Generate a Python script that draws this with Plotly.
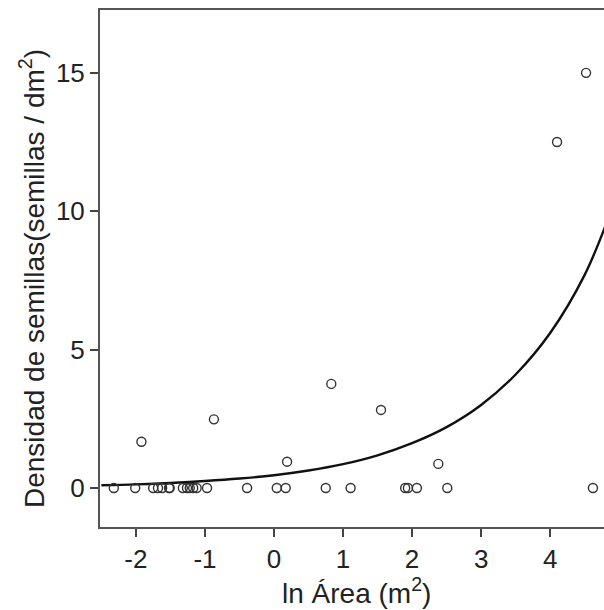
import plotly.graph_objects as go

# Observed points
x_obs = [-2.32, -2.01, -1.75, -1.68, -1.62, -1.52, -1.51, -1.32, -1.26, -1.22, -1.17, -1.12,
         -0.97, -0.39, 0.04, 0.17, 0.75, 1.11, 1.90, 1.94, 2.07, 2.51, 4.62,
         -1.92, -0.87, 0.19, 0.83, 1.55, 2.38, 4.10, 4.52]
y_obs = [0, 0, 0, 0, 0, 0, 0, 0, 0, 0, 0, 0,
         0, 0, 0, 0, 0, 0, 0, 0, 0, 0, 0,
         1.67, 2.48, 0.95, 3.76, 2.82, 0.87, 12.5, 15.0]

# Fitted curve
x_fit = [-2.5, -2.0, -1.5, -1.0, -0.5, 0.0, 0.5, 1.0, 1.5, 2.0, 2.5, 3.0, 3.5, 4.0, 4.5, 4.85]
y_fit = [0.10, 0.13, 0.18, 0.25, 0.34, 0.46, 0.63, 0.86, 1.18, 1.62, 2.2, 3.0, 4.1, 5.6, 7.7, 9.8]

x_ticks = [-2, -1, 0, 1, 2, 3, 4]
y_ticks = [0, 5, 10, 15]

fig = go.Figure()
fig.add_trace(go.Scatter(x=x_fit, y=y_fit, mode="lines", line=dict(color="#111", width=2.4, shape="spline"),
                         hoverinfo="skip"))
fig.add_trace(go.Scatter(x=x_obs, y=y_obs, mode="markers",
                         marker=dict(symbol="circle-open", size=9, color="#333", line=dict(width=1.4))))

fam = "Liberation Sans, Arial, sans-serif"
fig.update_layout(
    width=604, height=610,
    margin=dict(l=100, r=0, t=10, b=83),
    plot_bgcolor="white", paper_bgcolor="white",
    showlegend=False,
    font=dict(family=fam, size=26, color="#222"),
    xaxis=dict(range=[-2.52, 4.78], tickvals=x_ticks, ticktext=[str(v) for v in x_ticks],
               showgrid=False, zeroline=False, showline=True, linecolor="#555", linewidth=2,
               mirror=True, ticks="outside", ticklen=8, tickwidth=1.5, tickcolor="#444",
               tickfont=dict(size=26)),
    yaxis=dict(range=[-1.41, 17.27], tickvals=y_ticks, ticktext=[str(v) for v in y_ticks],
               showgrid=False, zeroline=False, showline=True, linecolor="#555", linewidth=2,
               ticks="outside", ticklen=8, tickwidth=1.5, tickcolor="#444",
               tickfont=dict(size=26)),
    annotations=[
        dict(text="Densidad de semillas(semillas / dm<sup>2</sup>)", textangle=-90,
             xref="paper", yref="paper", x=(32 - 100) / 504, y=(527 - 279) / 517,
             xanchor="center", yanchor="middle", showarrow=False,
             font=dict(family=fam, size=28, color="#222")),
        dict(text="ln Área (m<sup>2</sup>)",
             xref="paper", yref="paper", x=(356 - 100) / 504, y=(527 - 591) / 517,
             xanchor="center", yanchor="middle", showarrow=False,
             font=dict(family=fam, size=28, color="#222")),
    ],
)
fig.write_html("out.html")
